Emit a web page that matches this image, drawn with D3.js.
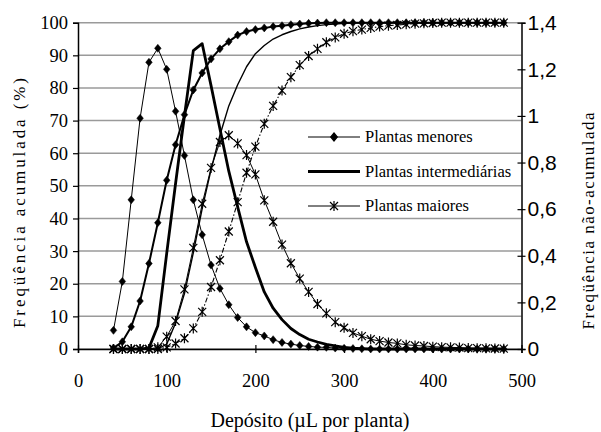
<!DOCTYPE html>
<html>
<head>
<meta charset="utf-8">
<script src="https://cdn.jsdelivr.net/npm/d3@7"></script>
<style>
  body { margin: 0; background: #fff; }
  text { fill: #000; }
  svg text.serif { font-family: "Liberation Serif", "Times New Roman", serif; }
  svg text.sans { font-family: "Liberation Sans", Arial, sans-serif; }
</style>
</head>
<body>
<script>
var width = 601;
var height = 432;

// depósito (µL por planta)
var deposito = [40, 50, 60, 70, 80, 90, 100, 110, 120, 130, 140, 150, 160, 170, 180, 190, 200, 210, 220, 230,
  240, 250, 260, 270, 280, 290, 300, 310, 320, 330, 340, 350, 360, 370, 380, 390, 400, 410, 420, 430,
  440, 450, 460, 470, 480];

// freqüência acumulada (%) - eixo esquerdo
var menoresAcum = [0.3, 2.2, 6.8, 14.7, 26.2, 38.7, 51.7, 62.6, 71.8, 79.4, 84.6, 88.9, 92, 94.2, 96.2, 97.3, 97.9, 98.4, 98.8, 99.1,
  99.4, 99.6, 99.8, 99.9, 100, 100, 100, 100, 100, 100, 100, 100, 100, 100, 100, 100, 100, 100, 100, 100,
  100, 100, 100, 100, 100];
var intermAcum = [0, 0, 0, 0, 0, 0, 1.5, 8, 17, 29.5, 43, 55, 65.5, 74.5, 81, 86.5, 90.5, 93, 95, 96.3,
  97.3, 98.1, 98.7, 99.1, 99.4, 99.6, 99.8, 99.9, 100, 100, 100, 100, 100, 100, 100, 100, 100, 100, 100, 100,
  100, 100, 100, 100, 100];
var maioresAcum = [0, 0, 0, 0, 0, 0, 0.5, 1.7, 3.3, 6.3, 11.4, 19, 27.2, 36, 45, 54, 62, 69, 74.5, 79.2,
  83.3, 87, 89.8, 92, 94, 95.5, 96.6, 97.4, 97.9, 98.4, 98.8, 99.1, 99.3, 99.5, 99.7, 99.8, 99.9, 100, 100, 100,
  100, 100, 100, 100, 100];

// freqüência não-acumulada - eixo direito
var menoresNaoAcum = [0.08, 0.29, 0.64, 0.99, 1.23, 1.29, 1.2, 1.02, 0.83, 0.64, 0.49, 0.36, 0.26, 0.19, 0.135, 0.095, 0.07, 0.056, 0.04, 0.028,
  0.021, 0.015, 0.011, 0.008, 0.007, 0.004, 0.003, 0.002, 0.001, 0, 0, 0, 0, 0, 0, 0, 0, 0, 0, 0,
  0, 0, 0, 0, 0];
var intermNaoAcum = [0, 0, 0, 0, 0.004, 0.1, 0.41, 0.71, 1.0, 1.28, 1.31, 1.13, 0.945, 0.763, 0.61, 0.46, 0.35, 0.245, 0.175, 0.126,
  0.088, 0.062, 0.042, 0.03, 0.02, 0.013, 0.007, 0.004, 0.002, 0, 0, 0, 0, 0, 0, 0, 0, 0, 0, 0,
  0, 0, 0, 0, 0];
var maioresNaoAcum = [0, 0, 0, 0, 0, 0.007, 0.053, 0.12, 0.256, 0.434, 0.623, 0.777, 0.888, 0.917, 0.882, 0.832, 0.749, 0.638, 0.546, 0.448,
  0.368, 0.302, 0.245, 0.193, 0.153, 0.115, 0.091, 0.069, 0.055, 0.042, 0.034, 0.028, 0.024, 0.018, 0.015, 0.013, 0.01, 0.008, 0.007, 0.006,
  0.004, 0.0035, 0.003, 0.002, 0.0014];

var xTicks = [0, 100, 200, 300, 400, 500];
var leftTicks = [0, 10, 20, 30, 40, 50, 60, 70, 80, 90, 100];
var rightTicks = [0, 0.2, 0.4, 0.6, 0.8, 1, 1.2, 1.4];
var legendNames = ["Plantas menores", "Plantas intermediárias", "Plantas maiores"];

var svg = d3.select("body")
  .append("svg")
  .attr("width", width)
  .attr("height", height);

var x = d3.scaleLinear().domain([0, 500]).range([78, 521.5]);
var yL = d3.scaleLinear().domain([0, 100]).range([349, 22.7]);
var yR = d3.scaleLinear().domain([0, 1.4]).range([349, 22.7]);

// gridlines
svg.append("g")
  .selectAll("line")
  .data(leftTicks)
  .enter().append("line")
    .attr("x1", x(0))
    .attr("x2", x(500))
    .attr("y1", function(d) { return yL(d); })
    .attr("y2", function(d) { return yL(d); })
    .attr("stroke", "#9a9a9a")
    .attr("stroke-width", 1.5);

// left axis
var leftAxis = svg.append("g")
  .attr("transform", "translate(" + x(0) + ",0)")
  .call(d3.axisLeft(yL).tickValues(leftTicks).tickSize(5).tickPadding(5));
leftAxis.selectAll("text")
  .attr("class", "serif")
  .style("font-size", "18.5px");

// right axis
var rightAxis = svg.append("g")
  .attr("transform", "translate(" + x(500) + ",0)")
  .call(d3.axisRight(yR).tickValues(rightTicks).tickSize(4).tickPadding(2)
    .tickFormat(function(d) { return String(d).replace(".", ","); }));
rightAxis.selectAll(".tick line").attr("x1", -4);
rightAxis.selectAll("text")
  .attr("class", "sans")
  .style("font-size", "21px");

// bottom axis
var bottomAxis = svg.append("g")
  .attr("transform", "translate(0," + yL(0) + ")")
  .call(d3.axisBottom(x).tickValues(xTicks).tickSize(4).tickPadding(21));
bottomAxis.selectAll(".tick line").attr("y1", -4);
bottomAxis.selectAll("text")
  .attr("class", "serif")
  .style("font-size", "18.5px");

svg.selectAll(".domain").attr("stroke", "#000").attr("stroke-width", 1.5);
svg.selectAll(".tick line").attr("stroke", "#000").attr("stroke-width", 1.2);

// axis titles
svg.append("text")
  .attr("class", "serif")
  .attr("transform", "translate(25,203) rotate(-90)")
  .attr("text-anchor", "middle")
  .attr("textLength", 250)
  .attr("lengthAdjust", "spacing")
  .style("font-size", "17px")
  .text("Freqüência acumulada (%)");

svg.append("text")
  .attr("class", "serif")
  .attr("transform", "translate(594,221) rotate(-90)")
  .attr("text-anchor", "middle")
  .attr("textLength", 217)
  .attr("lengthAdjust", "spacing")
  .style("font-size", "17px")
  .text("Freqüência não-acumulada");

svg.append("text")
  .attr("class", "serif")
  .attr("x", 310)
  .attr("y", 427)
  .attr("text-anchor", "middle")
  .style("font-size", "20px")
  .text("Depósito (µL por planta)");

// series
var series = [
  { values: menoresNaoAcum, y: yR, width: 1, dash: null, marker: "diamond" },
  { values: menoresAcum, y: yL, width: 2, dash: null, marker: "diamond" },
  { values: intermNaoAcum, y: yR, width: 2.8, dash: null, marker: null },
  { values: intermAcum, y: yL, width: 1.4, dash: null, marker: null },
  { values: maioresNaoAcum, y: yR, width: 1, dash: null, marker: "star" },
  { values: maioresAcum, y: yL, width: 1.1, dash: "5,2,1.5,2", marker: "star" }
];

var diamondPath = "M0,-4L3.3,0L0,4L-3.3,0Z";
var starPath = "M-4,-4L4,4M-4,4L4,-4M0,-5L0,5";

series.forEach(function(s) {
  var pts = deposito.map(function(d, i) { return [d, s.values[i]]; });
  var line = d3.line()
    .x(function(d) { return x(d[0]); })
    .y(function(d) { return s.y(d[1]); });

  svg.append("path")
    .datum(pts)
    .attr("d", line)
    .attr("fill", "none")
    .attr("stroke", "#000")
    .attr("stroke-width", s.width)
    .attr("stroke-linejoin", "round")
    .attr("stroke-dasharray", s.dash);

  if (s.marker) {
    svg.append("g")
      .selectAll("path")
      .data(pts)
      .enter().append("path")
        .attr("transform", function(d) { return "translate(" + x(d[0]) + "," + s.y(d[1]) + ")"; })
        .attr("d", s.marker == "diamond" ? diamondPath : starPath)
        .attr("fill", s.marker == "diamond" ? "#000" : "none")
        .attr("stroke", "#000")
        .attr("stroke-width", s.marker == "diamond" ? 0.5 : 1.2);
  }
});

// legend
var legendY = [137, 171.5, 206];
var legendWidth = [1, 2.8, 1];
var legendMarker = ["diamond", null, "star"];

var legend = svg.append("g")
  .selectAll("g")
  .data(legendNames)
  .enter().append("g")
    .attr("transform", function(d, i) { return "translate(0," + legendY[i] + ")"; });

legend.append("line")
  .attr("x1", 308)
  .attr("x2", 360)
  .attr("stroke", "#000")
  .attr("stroke-width", function(d, i) { return legendWidth[i]; });

legend.filter(function(d, i) { return legendMarker[i] != null; })
  .append("path")
    .attr("transform", "translate(334,0)")
    .attr("d", function(d) { return d == "Plantas menores" ? diamondPath : starPath; })
    .attr("fill", function(d) { return d == "Plantas menores" ? "#000" : "none"; })
    .attr("stroke", "#000")
    .attr("stroke-width", 1.2);

legend.append("text")
  .attr("class", "serif")
  .attr("x", 365)
  .attr("dy", "0.33em")
  .style("font-size", "16.5px")
  .text(function(d) { return d; });
</script>
</body>
</html>
